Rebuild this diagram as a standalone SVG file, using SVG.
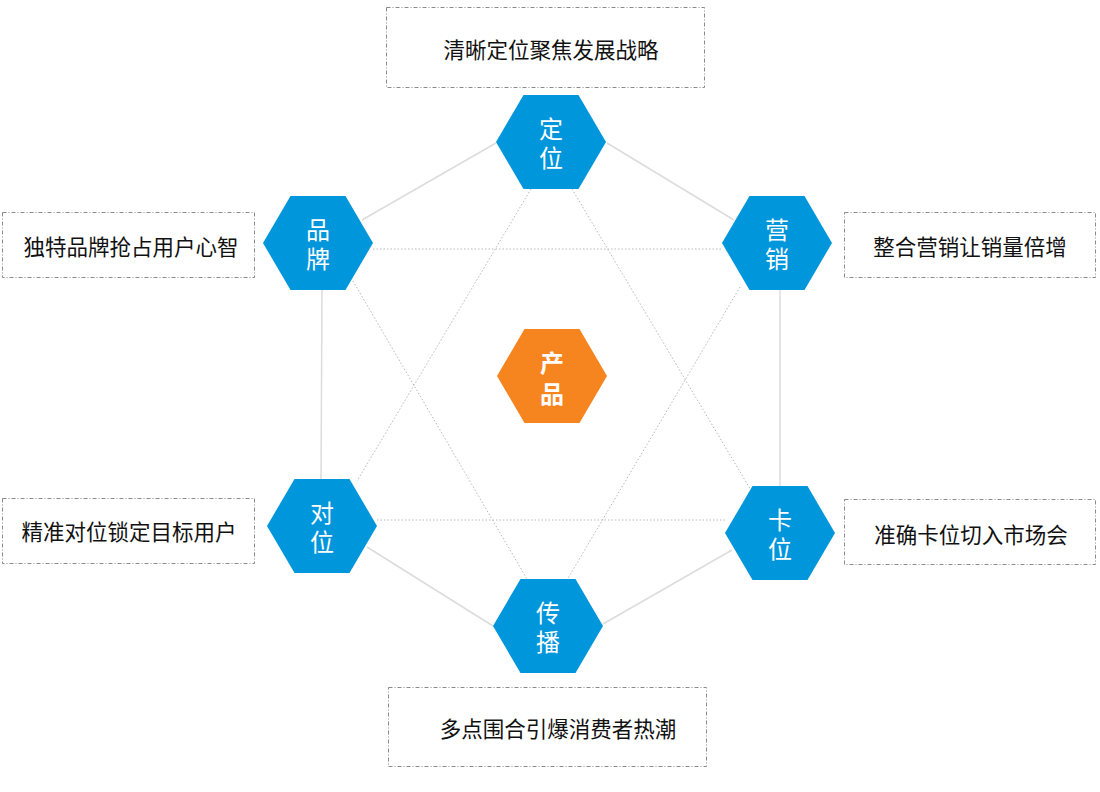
<svg xmlns="http://www.w3.org/2000/svg" xmlns:xlink="http://www.w3.org/1999/xlink" width="1100" height="792" viewBox="0 0 1100 792">
<style>
.edge{stroke:#dcdcdc;stroke-width:1.5;fill:none}
.star{stroke:#b8b8b8;stroke-width:1;stroke-dasharray:1.5 2;fill:none}
.box{fill:#fff;stroke:#8a8a8a;stroke-width:1;stroke-dasharray:4 2 1 2}
.hx{fill:#0096dc}
.hxc{fill:#f7851f}
.ht{font-family:"Noto Sans CJK SC","Noto Sans",sans-serif;font-size:24px;fill:#fff;text-anchor:middle;dominant-baseline:central}
.bt{font-family:"Noto Sans CJK SC","Noto Sans",sans-serif;font-size:21.5px;fill:#111;text-anchor:middle;dominant-baseline:central}
</style>
<defs>
<path id="hex" d="M-55,0 L-27.5,-47 L27.5,-47 L55,0 L27.5,47 L-27.5,47 Z"/>
</defs>
<rect width="1100" height="792" fill="#fff"/>
<g id="connectors">
<line class="edge" x1="496" y1="143" x2="362" y2="220"/>
<line class="edge" x1="607" y1="143" x2="734" y2="220"/>
<line class="edge" x1="780" y1="290" x2="780" y2="487"/>
<line class="edge" x1="732" y1="550" x2="603" y2="624"/>
<line class="edge" x1="493" y1="626" x2="367" y2="547"/>
<line class="edge" x1="322" y1="290" x2="321" y2="480"/>
<line class="star" x1="373" y1="249" x2="722" y2="249"/>
<line class="star" x1="377" y1="520" x2="726" y2="520"/>
<line class="star" x1="531" y1="189" x2="357" y2="481"/>
<line class="star" x1="572" y1="189" x2="752" y2="492"/>
<line class="star" x1="353" y1="281" x2="527" y2="579"/>
<line class="star" x1="740" y1="287" x2="567" y2="580"/>
</g>
<g id="box-top"><rect class="box" x="386.5" y="7.5" width="318" height="80"/><text class="bt" x="551" y="48">清晰定位聚焦发展战略</text></g>
<g id="box-brand"><rect class="box" x="2.5" y="212.5" width="252" height="65"/><text class="bt" x="131" y="245">独特品牌抢占用户心智</text></g>
<g id="box-marketing"><rect class="box" x="844.5" y="212.5" width="251" height="65"/><text class="bt" x="970" y="245">整合营销让销量倍增</text></g>
<g id="box-target"><rect class="box" x="2.5" y="498.5" width="252" height="65"/><text class="bt" x="129" y="530">精准对位锁定目标用户</text></g>
<g id="box-slot"><rect class="box" x="844.5" y="499.5" width="251" height="65"/><text class="bt" x="971" y="533">准确卡位切入市场会</text></g>
<g id="box-spread"><rect class="box" x="388.5" y="687.5" width="318" height="79"/><text class="bt" x="558" y="727">多点围合引爆消费者热潮</text></g>
<g id="node-dingwei"><use href="#hex" class="hx" x="551" y="142"/><text class="ht" x="551" y="127">定<tspan x="551" dy="29">位</tspan></text></g>
<g id="node-pinpai"><use href="#hex" class="hx" x="318" y="243"/><text class="ht" x="318" y="228">品<tspan x="318" dy="29">牌</tspan></text></g>
<g id="node-yingxiao"><use href="#hex" class="hx" x="777" y="243"/><text class="ht" x="777" y="228">营<tspan x="777" dy="29">销</tspan></text></g>
<g id="node-duiwei"><use href="#hex" class="hx" x="322" y="526"/><text class="ht" x="322" y="511">对<tspan x="322" dy="29">位</tspan></text></g>
<g id="node-kawei"><use href="#hex" class="hx" x="780" y="533"/><text class="ht" x="780" y="518">卡<tspan x="780" dy="29">位</tspan></text></g>
<g id="node-chuanbo"><use href="#hex" class="hx" x="548" y="626"/><text class="ht" x="548" y="611">传<tspan x="548" dy="29">播</tspan></text></g>
<g id="node-chanpin"><use href="#hex" class="hxc" x="552" y="376"/><text class="ht" x="552" y="361" font-weight="bold">产<tspan x="552" dy="31">品</tspan></text></g>
</svg>
